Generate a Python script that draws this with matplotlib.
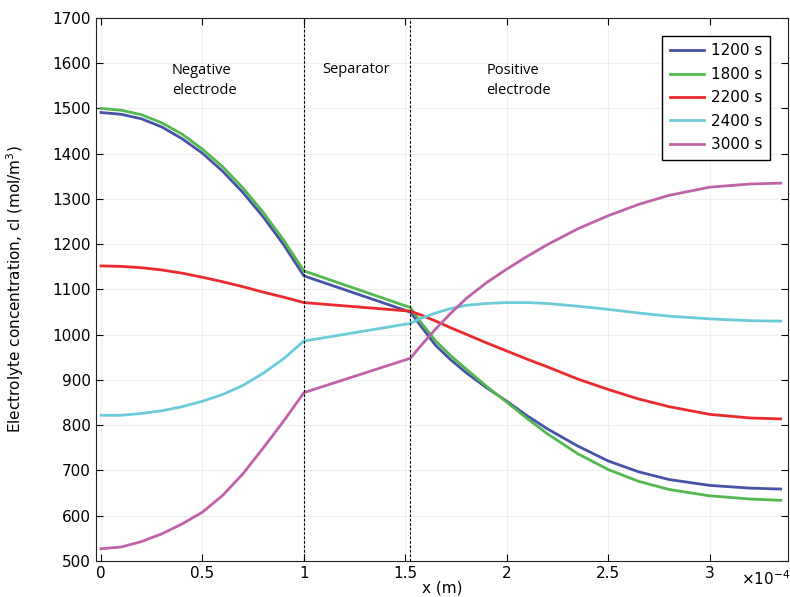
import matplotlib
matplotlib.use('Agg')
import matplotlib.pyplot as plt
import numpy as np

# x positions in units of 1e-4 m
x_neg = [0, 0.1, 0.2, 0.3, 0.4, 0.5, 0.6, 0.7, 0.8, 0.9, 1.0]
x_pos = [1.525, 1.575, 1.65, 1.725, 1.8, 1.9, 2.0, 2.1, 2.2, 2.35,
         2.5, 2.65, 2.8, 3.0, 3.2, 3.35]

c1200 = [1491, 1487, 1477, 1459, 1433, 1401, 1361, 1314, 1260, 1199, 1130,
         1050, 1020, 976, 944, 916, 883, 853, 821, 792, 754,
         721, 697, 680, 667, 661, 659]
c1800 = [1500, 1496, 1486, 1468, 1443, 1410, 1371, 1324, 1270, 1209, 1141,
         1060, 1028, 986, 953, 924, 886, 851, 815, 781, 737,
         702, 676, 658, 644, 637, 634]
c2200 = [1152, 1151, 1148, 1143, 1136, 1127, 1117, 1106, 1094, 1083, 1071,
         1052, 1044, 1030, 1015, 1001, 982, 964, 946, 929, 902,
         879, 858, 841, 824, 816, 814]
c2400 = [822, 822, 826, 832, 841, 853, 868, 888, 915, 947, 986,
         1025, 1036, 1048, 1058, 1065, 1069, 1071, 1071, 1069, 1063,
         1056, 1048, 1041, 1035, 1031, 1030]
c3000 = [527, 531, 543, 560, 582, 608, 645, 693, 750, 809, 872,
         948, 975, 1013, 1048, 1080, 1115, 1145, 1173, 1199, 1234,
         1263, 1288, 1308, 1326, 1333, 1335]

labels = ['1200 s', '1800 s', '2200 s', '2400 s', '3000 s']
colors = ['#4753a6', '#52b84f', '#ea2a2e', '#6ccbd9', '#c062a8']

x = np.array(x_neg + x_pos) * 1e-4

fig = plt.figure(figsize=(7.9, 5.97), dpi=100)
ax = fig.add_axes([0.1215, 0.0603, 0.8755, 0.9097])

for vals, lab, col in zip([c1200, c1800, c2200, c2400, c3000], labels, colors):
    ax.plot(x, vals, color=col, lw=2, label=lab)

ax.axvline(1.0e-4, color='black', ls='--', lw=0.8, dashes=(2.5, 1.5))
ax.axvline(1.525e-4, color='black', ls='--', lw=0.8, dashes=(2.5, 1.5))

ax.set_xlim(-0.0246e-4, 3.384e-4)
ax.set_ylim(500, 1700)
ax.set_yticks(np.arange(500, 1701, 100))
ax.set_xticks(np.arange(0, 3.1e-4, 0.5e-4))
ax.set_xticklabels(['0', '0.5', '1', '1.5', '2', '2.5', '3'])
ax.grid(True, color='#efefef', lw=0.8)
ax.tick_params(direction='in', top=True, right=True, labelsize=11, length=5)
for s in ax.spines.values():
    s.set_color('#222222')

ax.text(3.40e-4, 462, r'$\times$10$^{-4}$', fontsize=11, ha='right', va='center')

ax.set_xlabel('x (m)', fontsize=11, labelpad=0)
ax.set_ylabel('Electrolyte concentration, cl (mol/m$^3$)', fontsize=11, labelpad=19)

tf = dict(fontsize=10.5, family='Open Sans', va='center', ha='left', linespacing=1.5)
ax.text(0.35e-4, 1562, 'Negative\nelectrode', **tf)
ax.text(1.09e-4, 1585, 'Separator', **tf)
ax.text(1.90e-4, 1562, 'Positive\nelectrode', **tf)

leg = ax.legend(loc='upper right', bbox_to_anchor=(0.975, 0.967), borderaxespad=0,
                fontsize=11, fancybox=False, edgecolor='black', framealpha=1,
                handlelength=2.2, handletextpad=0.5, borderpad=0.5,
                labelspacing=0.55)
leg.get_frame().set_linewidth(1.0)

fig.savefig('out.png', dpi=100)
